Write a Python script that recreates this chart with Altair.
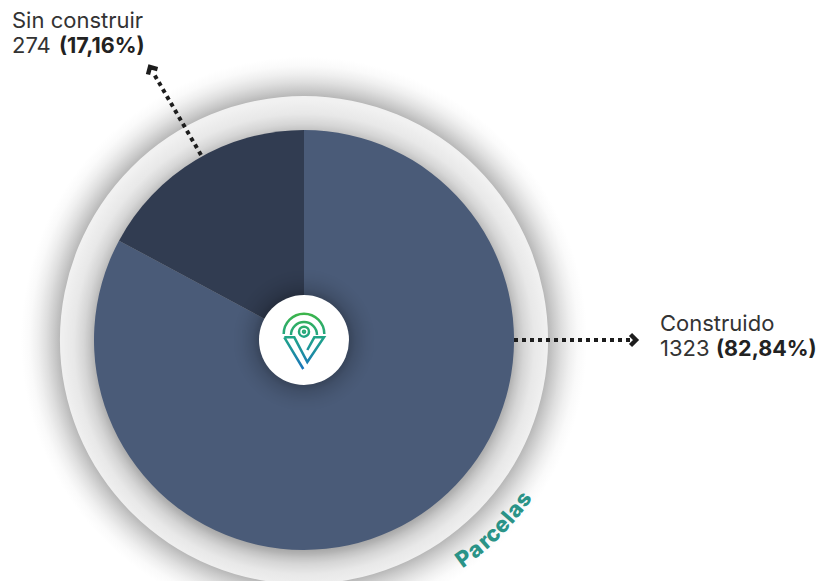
import math
import altair as alt
import pandas as pd

categories = ["Construido", "Sin construir"]
counts = [1323, 274]
shares = ["82,84%", "17,16%"]
slice_colors = ["#4a5b78", "#313c51"]
ring_title = list("Parcelas")
ring_alpha = [53.8, 50.8, 48.1, 45.9, 43.2, 41.0, 38.8, 36.0]

W, H = 809, 573
CX, CY = 296, 332
TEAL = "#2a9387"
INK = "#333333"


def radial(stops, yc=0.5):
    return alt.RadialGradient(
        gradient="radial", x1=0.5, y1=yc, r1=0, x2=0.5, y2=yc, r2=0.5,
        stops=[alt.GradientStop(offset=o, color=c) for o, c in stops],
    )


def disc(r, fill):
    return alt.Chart(pd.DataFrame({"k": [0]})).mark_arc(
        theta=0, theta2=2 * math.pi, outerRadius=r, fill=fill, stroke=None
    ).encode(x=alt.value(CX), y=alt.value(CY))


outer = 283
outer_shadow = disc(outer, radial([
    (0, "#b8b8b8"), (244 / outer, "#b8b8b8"), (250 / outer, "#cacaca"), (258 / outer, "#dfdfdf"),
    (266 / outer, "#efefef"), (274 / outer, "#fafafa"), (1, "#ffffff"),
]))
ring = disc(244, radial([
    (0, "#a8a8a8"), (206 / 244, "#a8a8a8"), (210 / 244, "#b4b4b4"), (214 / 244, "#c4c4c4"),
    (220 / 244, "#d6d6d6"), (230 / 244, "#e8e8e8"), (1, "#f1f1f1"),
], yc=0.508))

pie_df = pd.DataFrame({"label": categories, "value": counts, "idx": [0, 1]})
pie = alt.Chart(pie_df).mark_arc(outerRadius=210, stroke=None).encode(
    theta=alt.Theta("value:Q", stack=True),
    order=alt.Order("idx:Q"),
    color=alt.Color("label:N", scale=alt.Scale(domain=categories, range=slice_colors), legend=None),
    x=alt.value(CX), y=alt.value(CY),
)

hub_shadow = disc(72, radial([
    (0, "rgba(0,0,0,0.24)"), (45 / 72, "rgba(0,0,0,0.24)"), (52 / 72, "rgba(0,0,0,0.12)"),
    (62 / 72, "rgba(0,0,0,0.04)"), (1, "rgba(0,0,0,0)"),
]))
hub = disc(45, "#ffffff")

logo_grad = alt.LinearGradient(
    gradient="linear", x1=0, y1=0, x2=0, y2=1,
    stops=[alt.GradientStop(offset=0, color="#3cb54a"), alt.GradientStop(offset=0.45, color="#1fa38a"),
           alt.GradientStop(offset=1, color="#1b75bc")],
)
LOGO = (
    "M-20.3,-6 A20.3,20.3 0 1 1 20.3,-6 "
    "M-13,-5 A13,13 0 1 1 13,-5 "
    "M-19.7,-2.7 L-9.7,-2.7 L3.3,22 L20,-2.7 L10.3,-2.7 L3.3,10 "
    "M-19.7,-2.7 L-0.7,29 "
    "M5,-8.3 A5,5 0 1 1 -5,-8.3 A5,5 0 1 1 5,-8.3 "
    "M1,-8.3 A1,1 0 1 1 -1,-8.3 A1,1 0 1 1 1,-8.3"
)
logo = alt.Chart(pd.DataFrame({"k": [0]})).mark_point(
    shape=LOGO, size=4, filled=False, stroke=logo_grad, strokeWidth=2.5, opacity=1
).encode(x=alt.value(CX), y=alt.value(CY))


def leader(x1, y1, x2, y2):
    return alt.Chart(pd.DataFrame({"k": [0]})).mark_rule(
        color="#1d1d1d", strokeWidth=4, strokeDash=[4, 4]
    ).encode(x=alt.value(x1), y=alt.value(y1), x2=alt.value(x2), y2=alt.value(y2))


def chevron(x, y, angle):
    return alt.Chart(pd.DataFrame({"k": [0]})).mark_point(
        shape="M-5.5,-5.5 L0,0 L-5.5,5.5", size=4, filled=False, stroke="#1d1d1d", strokeWidth=4.4,
        opacity=1, angle=angle,
    ).encode(x=alt.value(x), y=alt.value(y))


def label(x, y, text, bold=False, size=22):
    return alt.Chart(pd.DataFrame({"k": [0]})).mark_text(
        text=text, align="left", baseline="alphabetic", font="Inter", fontSize=size,
        fontWeight="bold" if bold else "normal", color="#222222" if bold else INK,
    ).encode(x=alt.value(x), y=alt.value(y))


letters = []
for ch, a in zip(ring_title, ring_alpha):
    ar = math.radians(a)
    letters.append({"ch": ch, "px": CX + 271 * math.cos(ar), "py": CY + 271 * math.sin(ar), "rot": (a - 90) % 360})
ring_text = [
    alt.Chart(pd.DataFrame([d])).mark_text(
        text=d["ch"], font="Inter", fontWeight=800, fontSize=22, color=TEAL,
        align="center", baseline="middle", angle=d["rot"],
    ).encode(x=alt.value(d["px"]), y=alt.value(d["py"]))
    for d in letters
]

chart = alt.layer(
    outer_shadow, ring, pie, hub_shadow, hub, logo,
    leader(506, 332, 623, 332), chevron(628, 332, 0),
    leader(193, 147, 146, 66), chevron(142, 59, 240),
    label(652, 323, categories[0]),
    label(652, 348, str(counts[0])),
    label(708, 348, f"({shares[0]})", bold=True, size=21.5),
    label(4, 19.5, categories[1]),
    label(4, 44.5, str(counts[1])),
    label(51, 44.5, f"({shares[1]})", bold=True, size=21.5),
    *ring_text,
).properties(
    width=W, height=H, padding=0, autosize=alt.AutoSizeParams(type="none"),
    background="#ffffff",
).configure_view(stroke=None)

chart.save("out.html", embed_options={"renderer": "svg", "actions": False})
